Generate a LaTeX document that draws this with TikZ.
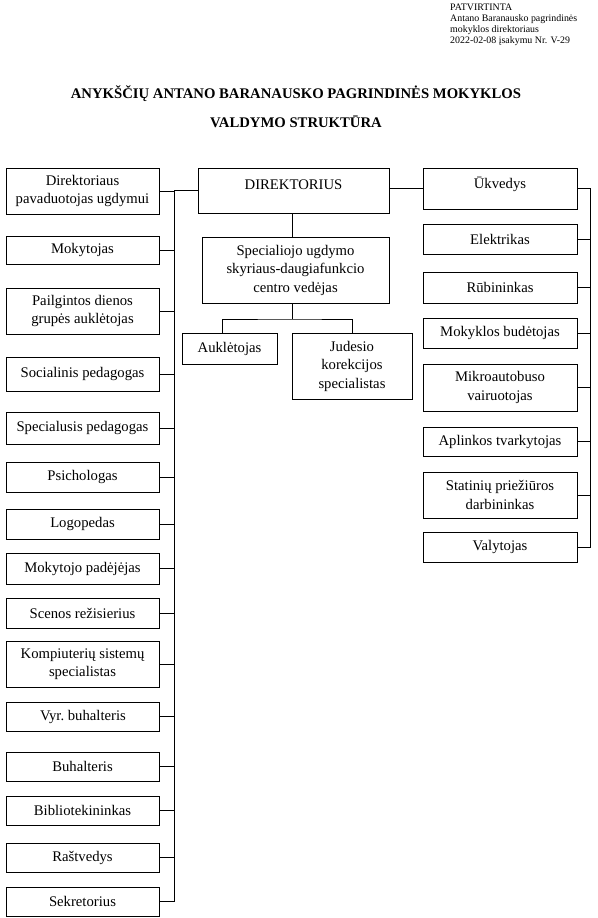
\documentclass[tikz,border=0pt]{standalone}
\usepackage{fontspec}
\setmainfont{Liberation Serif}

\begin{document}
\begin{tikzpicture}[x=1pt,y=-1pt,
  box/.style={draw,line width=0.9pt,align=center,inner sep=1pt,
    font=\fontsize{14.7}{18.5}\selectfont},
  lbox/.style={box,minimum width=153pt},
  rbox/.style={box,minimum width=154pt},
  toptext/.style={text depth=12pt}]
\useasboundingbox (0,0) rectangle (597,918);

% header
\node[anchor=north west,align=left,inner sep=0pt,
  font=\fontsize{9.9}{11}\selectfont] (patv) at (450,4)
  {PATVIRTINTA\\Antano Baranausko pagrindinės\\mokyklos direktoriaus\\2022-02-08 įsakymu Nr. V-29};
\node[font=\fontsize{14.7}{29}\selectfont\bfseries,align=center] (title) at (296,107)
  {ANYKŠČIŲ ANTANO BARANAUSKO PAGRINDINĖS MOKYKLOS\\VALDYMO STRUKTŪRA};

% middle
\node[box,toptext,minimum width=191pt,minimum height=45pt] (dir) at (293.5,190.5) {DIREKTORIUS};
\node[box,minimum width=187pt,minimum height=66pt] (sud) at (295.5,270)
  {Specialiojo ugdymo\\skyriaus-daugiafunkcio\\centro vedėjas};
\node[box,minimum width=95pt,minimum height=31pt] (auk) at (229.5,348.5) {Auklėtojas};
\node[box,minimum width=120pt,minimum height=66pt] (jud) at (352,366)
  {Judesio\\korekcijos\\specialistas};

% left column
\node[lbox,minimum height=46pt] (pav) at (82.5,191) {Direktoriaus\\pavaduotojas ugdymui};
\node[lbox,minimum height=28pt] (mok) at (82.5,250) {Mokytojas};
\node[lbox,minimum height=46pt] (pail) at (82.5,311) {Pailgintos dienos\\grupės auklėtojas};
\node[lbox,minimum height=34pt] (soc) at (82.5,374) {Socialinis pedagogas};
\node[lbox,minimum height=32pt] (spp) at (82.5,428) {Specialusis pedagogas};
\node[lbox,minimum height=30pt] (psi) at (82.5,477) {Psichologas};
\node[lbox,minimum height=30pt] (log) at (82.5,524) {Logopedas};
\node[lbox,minimum height=31pt] (pad) at (82.5,568.5) {Mokytojo padėjėjas};
\node[lbox,minimum height=30pt] (sce) at (82.5,613) {Scenos režisierius};
\node[lbox,minimum height=46pt] (kom) at (82.5,664) {Kompiuterių sistemų\\specialistas};
\node[lbox,minimum height=29pt] (vyr) at (83,716.5) {Vyr.\ buhalteris};
\node[lbox,minimum height=29pt] (buh) at (82.5,766.5) {Buhalteris};
\node[lbox,minimum height=29pt] (bib) at (82.5,810.5) {Bibliotekininkas};
\node[lbox,minimum height=29pt] (ras) at (82.5,857.5) {Raštvedys};
\node[lbox,minimum height=29pt] (sek) at (82.5,901.5) {Sekretorius};

% right column
\node[rbox,toptext,minimum height=41pt] (ukv) at (500,188.5) {Ūkvedys};
\node[rbox,minimum height=30pt] (ele) at (500,239) {Elektrikas};
\node[rbox,minimum height=31pt] (rub) at (500,287.5) {Rūbininkas};
\node[rbox,minimum height=30pt] (bud) at (500,333) {Mokyklos budėtojas};
\node[rbox,minimum height=47pt] (mik) at (500,387.5) {Mikroautobuso\\vairuotojas};
\node[rbox,minimum height=29pt] (apl) at (500,441.5) {Aplinkos tvarkytojas};
\node[rbox,minimum height=46pt] (sta) at (500,495) {Statinių priežiūros\\darbininkas};
\node[rbox,minimum height=30pt] (val) at (500,547) {Valytojas};

\coordinate (lbus) at (174,0);
\coordinate (rbus) at (590,0);
\coordinate (fork) at (292,319);

% connectors
\draw[line width=0.9pt] (dir.west) -| (lbus |- sek.east) -- (sek.east);
\foreach \n in {pav,mok,pail,soc,spp,psi,log,pad,sce,kom,vyr,buh,bib,ras}
  \draw[line width=0.9pt] (\n.east) -- (\n.east -| lbus);
\draw[line width=0.9pt] (dir.east |- ukv.west) -- (ukv.west);
\draw[line width=0.9pt] (ukv.east) -| (rbus |- val.east) -- (val.east);
\foreach \n in {ele,rub,bud,mik,apl,sta}
  \draw[line width=0.9pt] (\n.east) -- (\n.east -| rbus);
\draw[line width=0.9pt] (dir.south -| fork) -- (sud.north -| fork);
\draw[line width=0.9pt] (sud.south -| fork) -- (fork);
\draw[line width=0.9pt] (auk.north -| 222,0) |- (fork) -| (jud.north);
\end{tikzpicture}
\end{document}
